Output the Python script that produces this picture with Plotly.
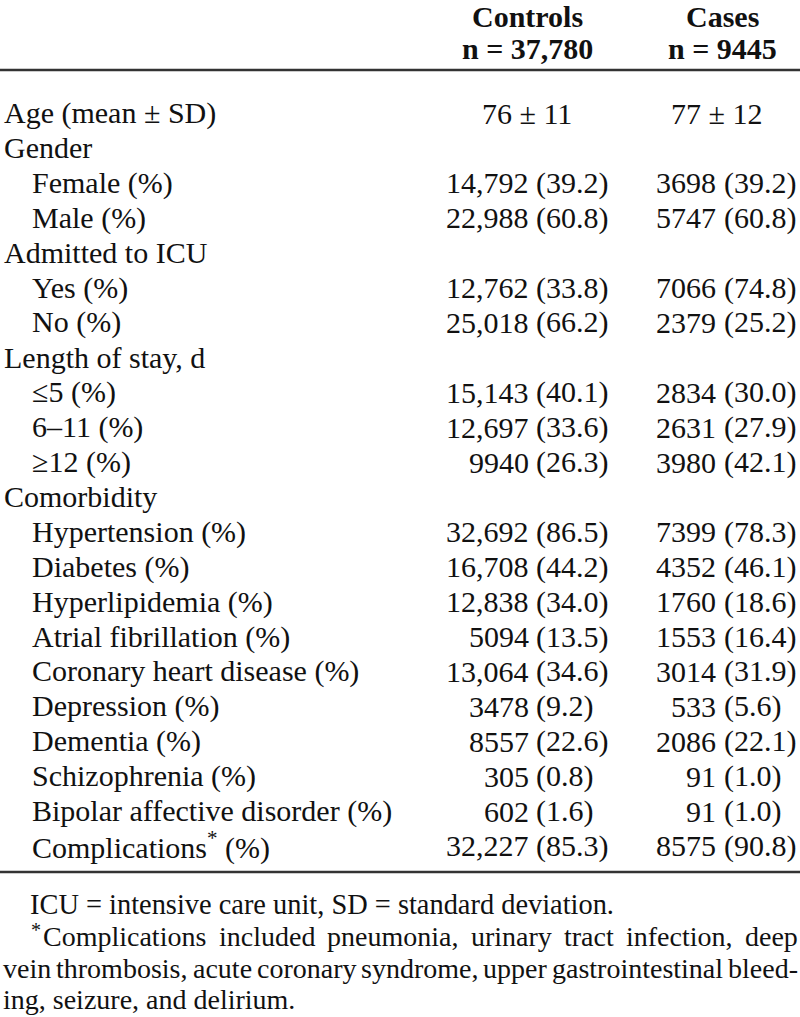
import plotly.graph_objects as go

W, H = 800, 1017
FONT = "Liberation Serif"
TXT = "#111111"

# ---- data ----
col_headers = ["Controls", "Cases"]
col_n = ["n = 37,780", "n = 9445"]

labels = ["Age (mean ± SD)", "Gender", "Female (%)", "Male (%)", "Admitted to ICU",
          "Yes (%)", "No (%)", "Length of stay, d", "≤5 (%)", "6–11 (%)", "≥12 (%)",
          "Comorbidity", "Hypertension (%)", "Diabetes (%)", "Hyperlipidemia (%)",
          "Atrial fibrillation (%)", "Coronary heart disease (%)", "Depression (%)",
          "Dementia (%)", "Schizophrenia (%)", "Bipolar affective disorder (%)",
          "Complications<sup>*</sup> (%)"]
indent = [0, 0, 1, 1, 0, 1, 1, 0, 1, 1, 1, 0, 1, 1, 1, 1, 1, 1, 1, 1, 1, 1]

age_ctrl = "76 ± 11"
age_case = "77 ± 12"

ctrl_n = [None, None, "14,792", "22,988", None, "12,762", "25,018", None, "15,143", "12,697",
          "9940", None, "32,692", "16,708", "12,838", "5094", "13,064", "3478", "8557", "305",
          "602", "32,227"]
ctrl_pct = [None, None, "39.2", "60.8", None, "33.8", "66.2", None, "40.1", "33.6", "26.3", None,
            "86.5", "44.2", "34.0", "13.5", "34.6", "9.2", "22.6", "0.8", "1.6", "85.3"]
case_n = [None, None, "3698", "5747", None, "7066", "2379", None, "2834", "2631", "3980", None,
          "7399", "4352", "1760", "1553", "3014", "533", "2086", "91", "91", "8575"]
case_pct = [None, None, "39.2", "60.8", None, "74.8", "25.2", None, "30.0", "27.9", "42.1", None,
            "78.3", "46.1", "18.6", "16.4", "31.9", "5.6", "22.1", "1.0", "1.0", "90.8"]

footnote1 = "ICU = intensive care unit, SD = standard deviation."
footnote2 = ["Complications included pneumonia, urinary tract infection, deep",
             "vein thrombosis, acute coronary syndrome, upper gastrointestinal bleed-",
             "ing, seizure, and delirium."]

# ---- layout constants ----
FS = 30
FN = 28
row_y0, row_step = 113, 34.9
x_label = [1.5, 30]
num_right = [531, 718]
pct_left = [534, 722]
head_cx = [527, 722]
age_cx = [527, 716]

# Times / Liberation Serif advance widths (per 1000 em) for justifying footnote lines
TW = {' ': 250, ',': 250, '.': 250, '-': 333, '(': 333, ')': 333}
TW.update({c: 500 for c in "0123456789"})
TW.update(dict(zip("abcdefghijklmnopqrstuvwxyz",
                   [444, 500, 444, 500, 444, 333, 500, 500, 278, 278, 500, 278, 778, 500, 500,
                    500, 500, 333, 389, 278, 500, 500, 722, 500, 500, 444])))
TW.update(dict(zip("ABCDEFGHIJKLMNOPQRSTUVWXYZ",
                   [722, 667, 667, 722, 611, 556, 722, 722, 333, 389, 722, 611, 889, 722, 722,
                    556, 722, 667, 556, 611, 722, 722, 944, 722, 722, 611])))

def text_w(s, size):
    return sum(TW.get(c, 500) for c in s) * size / 1000.0

ann = []

def add(text, x, y, xa, size=FS, bold=False):
    ann.append(dict(text=f"<b>{text}</b>" if bold else text, x=x, y=y, xref="x", yref="y",
                    xanchor=xa, yanchor="middle", showarrow=False,
                    font=dict(family=FONT, size=size, color=TXT)))

def add_justified(line, x0, x1, y, size):
    words = line.split(" ")
    widths = [text_w(w, size) for w in words]
    gap = (x1 - x0 - sum(widths)) / (len(words) - 1)
    x = x0
    for w, wd in zip(words, widths):
        add(w, x, y, "left", size=size)
        x += wd + gap

for j in range(2):
    add(col_headers[j], head_cx[j], 16, "center", bold=True)
    add(col_n[j], head_cx[j], 48, "center", bold=True)

for i, lab in enumerate(labels):
    y = row_y0 + i * row_step
    add(lab, x_label[indent[i]], y, "left")
    if i == 0:
        add(age_ctrl, age_cx[0], y, "center")
        add(age_case, age_cx[1], y, "center")
        continue
    for j, (nn, pp) in enumerate([(ctrl_n, ctrl_pct), (case_n, case_pct)]):
        if nn[i] is not None:
            add(nn[i], num_right[j], y, "right")
            add(f"({pp[i]})", pct_left[j], y, "left")

add(footnote1, 28, 904, "left", size=28.4)
add("*", 29, 930, "left", size=20)
add_justified(footnote2[0], 41, 796, 936, FN)
add_justified(footnote2[1], 1, 796, 968, FN)
add(footnote2[2], 1, 999, "left", size=FN)

shapes = [
    dict(type="line", x0=0, x1=800, y0=70, y1=70, xref="x", yref="y",
         line=dict(color="#333333", width=2.5)),
    dict(type="line", x0=0, x1=800, y0=872, y1=872, xref="x", yref="y",
         line=dict(color="#333333", width=2.5)),
]

fig = go.Figure()
fig.update_layout(
    width=W, height=H, margin=dict(l=0, r=0, t=0, b=0),
    paper_bgcolor="white", plot_bgcolor="white",
    xaxis=dict(range=[0, W], visible=False, fixedrange=True),
    yaxis=dict(range=[H, 0], visible=False, fixedrange=True),
    annotations=ann, shapes=shapes, showlegend=False,
)
fig.write_html("out.html", config={"displayModeBar": False},
               post_script="document.body.style.margin='0';document.body.style.overflow='hidden';")
